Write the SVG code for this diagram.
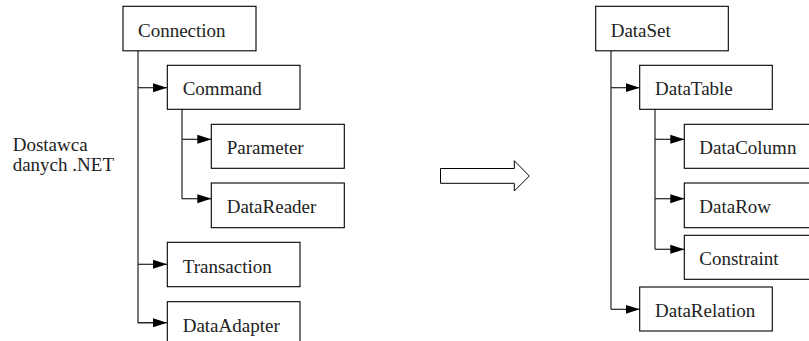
<svg xmlns="http://www.w3.org/2000/svg" width="809" height="341" viewBox="0 0 809 341">
<style>
.box{fill:#fff;stroke:#000;stroke-width:1.1}
.lbl{font-size:19px;fill:#222}
.con{fill:none;stroke:#222;stroke-width:1.2}
</style>
<defs>
<marker id="ah" markerWidth="14" markerHeight="10" refX="14" refY="5" orient="auto" markerUnits="userSpaceOnUse">
<path d="M0,0.5 L14,5 L0,9.5 Z" fill="#000"/>
</marker>
</defs>
<rect width="809" height="341" fill="#fff"/>
<g id="connectors">
<path class="con" d="M138,51 V322.7 H154"/>
<path class="con" d="M138,87.7 H167" marker-end="url(#ah)"/>
<path class="con" d="M138,264.3 H167" marker-end="url(#ah)"/>
<path class="con" d="M138,322.7 H167" marker-end="url(#ah)"/>
<path class="con" d="M182,109.3 V198.7"/>
<path class="con" d="M182,139.3 H211.3" marker-end="url(#ah)"/>
<path class="con" d="M182,198.7 H211.3" marker-end="url(#ah)"/>
<path class="con" d="M611,51 V309.3"/>
<path class="con" d="M611,87.7 H639.7" marker-end="url(#ah)"/>
<path class="con" d="M611,309.3 H639.7" marker-end="url(#ah)"/>
<path class="con" d="M655,109.3 V249.3"/>
<path class="con" d="M655,139.3 H684.3" marker-end="url(#ah)"/>
<path class="con" d="M655,198.7 H684.3" marker-end="url(#ah)"/>
<path class="con" d="M655,249.3 H684.3" marker-end="url(#ah)"/>
</g>
<g font-family="Liberation Serif, serif">
<g id="label-provider">
<text class="lbl" x="12.7" y="150.5">Dostawca</text>
<text class="lbl" x="12.7" y="171">danych .NET</text>
</g>
<g id="big-arrow">
<path d="M440.5,168.5 H514.3 V160.7 L529.3,176 L514.3,191 V183.3 H440.5 Z" fill="#fff" stroke="#000" stroke-width="1"/>
</g>
<g id="connection"><rect class="box" x="123" y="6.3" width="133" height="44.5"/><text class="lbl" x="138" y="36.5">Connection</text></g>
<g id="command"><rect class="box" x="167.3" y="65.3" width="132.7" height="44"/><text class="lbl" x="182.7" y="95">Command</text></g>
<g id="parameter"><rect class="box" x="211.3" y="124.3" width="133" height="44"/><text class="lbl" x="226.7" y="154">Parameter</text></g>
<g id="datareader"><rect class="box" x="211.3" y="183" width="133" height="44.7"/><text class="lbl" x="226.7" y="213">DataReader</text></g>
<g id="transaction"><rect class="box" x="167.3" y="242.3" width="132.7" height="44.4"/><text class="lbl" x="182.7" y="272.5">Transaction</text></g>
<g id="dataadapter"><rect class="box" x="167.3" y="301.7" width="132.7" height="44"/><text class="lbl" x="182.7" y="331.5">DataAdapter</text></g>
<g id="dataset"><rect class="box" x="595.7" y="6.3" width="132.6" height="44.5"/><text class="lbl" x="610.7" y="36.5">DataSet</text></g>
<g id="datatable"><rect class="box" x="639.7" y="65.3" width="132.6" height="44"/><text class="lbl" x="655" y="95">DataTable</text></g>
<g id="datacolumn"><rect class="box" x="684.3" y="124.3" width="133" height="44"/><text class="lbl" x="699.3" y="154">DataColumn</text></g>
<g id="datarow"><rect class="box" x="684.3" y="183" width="133" height="44.7"/><text class="lbl" x="699.3" y="213">DataRow</text></g>
<g id="constraint"><rect class="box" x="684.3" y="235.3" width="133" height="44"/><text class="lbl" x="699.3" y="265">Constraint</text></g>
<g id="datarelation"><rect class="box" x="639.7" y="287" width="132.6" height="44"/><text class="lbl" x="655" y="317">DataRelation</text></g>
</g>
</svg>
